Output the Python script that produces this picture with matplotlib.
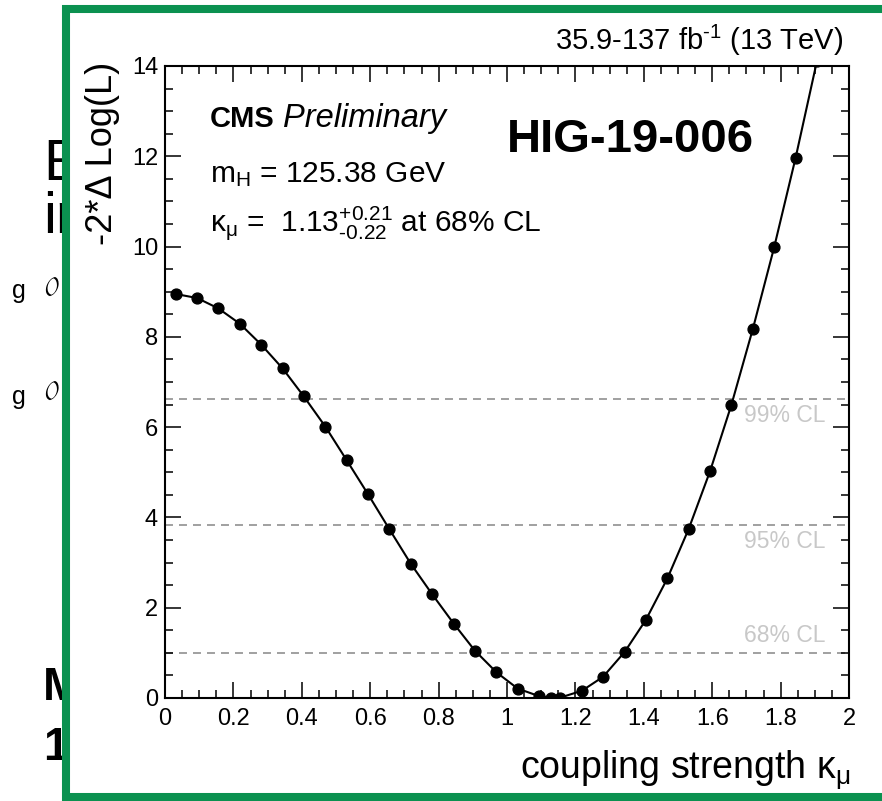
import numpy as np
import matplotlib
matplotlib.use('Agg')
import matplotlib.pyplot as plt
from matplotlib.patches import Rectangle

# likelihood scan
kappa = [0.031, 0.094, 0.156, 0.219, 0.281, 0.344, 0.406, 0.469, 0.531, 0.594,
         0.656, 0.719, 0.781, 0.844, 0.906, 0.969, 1.031, 1.094, 1.13, 1.156,
         1.219, 1.281, 1.344, 1.406, 1.469, 1.531, 1.594, 1.656, 1.719, 1.781,
         1.844, 1.906]
dnll = [8.95, 8.86, 8.63, 8.29, 7.83, 7.30, 6.68, 6.01, 5.27, 4.51,
        3.74, 2.97, 2.30, 1.65, 1.05, 0.57, 0.21, 0.04, 0.0, 0.01,
        0.16, 0.47, 1.02, 1.73, 2.65, 3.74, 5.03, 6.49, 8.18, 9.98,
        11.97, 14.1]

cl_levels = [1.0, 3.84, 6.63]
cl_names = ['68% CL', '95% CL', '99% CL']
xticks = [0, 0.2, 0.4, 0.6, 0.8, 1.0, 1.2, 1.4, 1.6, 1.8, 2.0]
xtick_labels = ['0', '0.2', '0.4', '0.6', '0.8', '1', '1.2', '1.4', '1.6', '1.8', '2']
yticks = [0, 2, 4, 6, 8, 10, 12, 14]

plt.rcParams['font.family'] = ['Liberation Sans', 'DejaVu Sans']
plt.rcParams['mathtext.fontset'] = 'custom'
plt.rcParams['mathtext.rm'] = 'Liberation Sans'
plt.rcParams['mathtext.it'] = 'Liberation Sans:italic'

W, H = 882, 801
fig = plt.figure(figsize=(W / 100, H / 100), dpi=100)


def fx(px):
    return px / W


def fy(py):
    return 1 - py / H


HY = '\u2010'  # plain hyphen, mathtext turns '-' into a long minus

# slide text peeking out from behind the plot
fig.text(fx(43), fy(180), 'E', fontsize=42, zorder=0.5)
fig.text(fx(43), fy(233), 'in', fontsize=42, zorder=0.5)
fig.text(fx(12), fy(298), 'g', fontsize=18, zorder=0.5)
fig.text(fx(12), fy(404), 'g', fontsize=18, zorder=0.5)
fig.text(fx(44), fy(296), r'$\mathcal{O}$', fontsize=18, zorder=0.5)
fig.text(fx(44), fy(400), r'$\mathcal{O}$', fontsize=18, zorder=0.5)
fig.text(fx(43), fy(700), 'M', fontsize=33, fontweight='bold', zorder=0.5)
fig.text(fx(43), fy(760), '1', fontsize=33, fontweight='bold', zorder=0.5)

# white panel with green frame
frame = Rectangle((fx(66), fy(797)), 1.0, (797 - 9) / H, transform=fig.transFigure,
                  facecolor='white', edgecolor='#0b9150', lw=5.8, zorder=1)
fig.add_artist(frame)

ax = fig.add_axes([fx(165), fy(698), (849 - 165) / W, (698 - 66) / H])
ax.set_zorder(2)

for lvl, name in zip(cl_levels, cl_names):
    ax.axhline(lvl, color='#a0a0a0', lw=1.4, dashes=(4.1, 3.1), zorder=1)
    if name == '68% CL':
        ax.text(1.93, lvl + 0.12, name, color='#c8c8c8', fontsize=16.5,
                ha='right', va='bottom')
    else:
        ax.text(1.93, lvl - 0.12, name, color='#c8c8c8', fontsize=16.5,
                ha='right', va='top')

ax.plot(kappa, dnll, color='black', lw=1.5, marker='o', ms=7.8, zorder=3)

ax.set_xlim(0, 2)
ax.set_ylim(0, 14)
ax.set_xticks(xticks)
ax.set_xticklabels(xtick_labels)
ax.set_yticks(yticks)
ax.xaxis.set_minor_locator(matplotlib.ticker.MultipleLocator(0.05))
ax.yaxis.set_minor_locator(matplotlib.ticker.MultipleLocator(0.5))
ax.tick_params(which='both', direction='in', top=True, right=True, width=1.1,
               labelsize=17)
ax.tick_params(which='major', length=11.5)
ax.tick_params(which='minor', length=5.8)
ax.tick_params(axis='x', pad=7)
ax.tick_params(axis='y', pad=5)
for sp in ax.spines.values():
    sp.set_linewidth(1.5)

# labels
fig.text(fx(843), fy(50), r'35.9-137 fb$^{\mathregular{' + HY + '1}}$ (13 TeV)', fontsize=21,
         ha='right', va='baseline', zorder=3)
fig.text(fx(210), fy(127), 'CMS', fontsize=21, fontweight='bold', va='baseline', zorder=3)
fig.text(fx(283), fy(127), 'Preliminary', fontsize=23.5, style='italic', va='baseline', zorder=3)
fig.text(fx(507), fy(152), 'HIG-19-006', fontsize=34, fontweight='bold', va='baseline', zorder=3)
fig.text(fx(210), fy(182), r'm$_{\mathregular{H}}$ = 125.38 GeV', fontsize=21.5,
         va='baseline', zorder=3)
fig.text(fx(210), fy(231),
         r'κ$_{\mathregular{μ}}$ =  1.13$^{\mathregular{+0.21}}_{\mathregular{' + HY + '0.22}}$ at 68% CL',
         fontsize=21.5, va='baseline', zorder=3)
fig.text(fx(850), fy(779), r'coupling strength κ$_{\mathregular{μ}}$', fontsize=27,
         ha='right', va='baseline', zorder=3)
fig.text(fx(103), fy(62), '-2*Δ Log(L)', fontsize=26, rotation=90,
         ha='center', va='top', zorder=3)

fig.savefig('out.png', dpi=100)
